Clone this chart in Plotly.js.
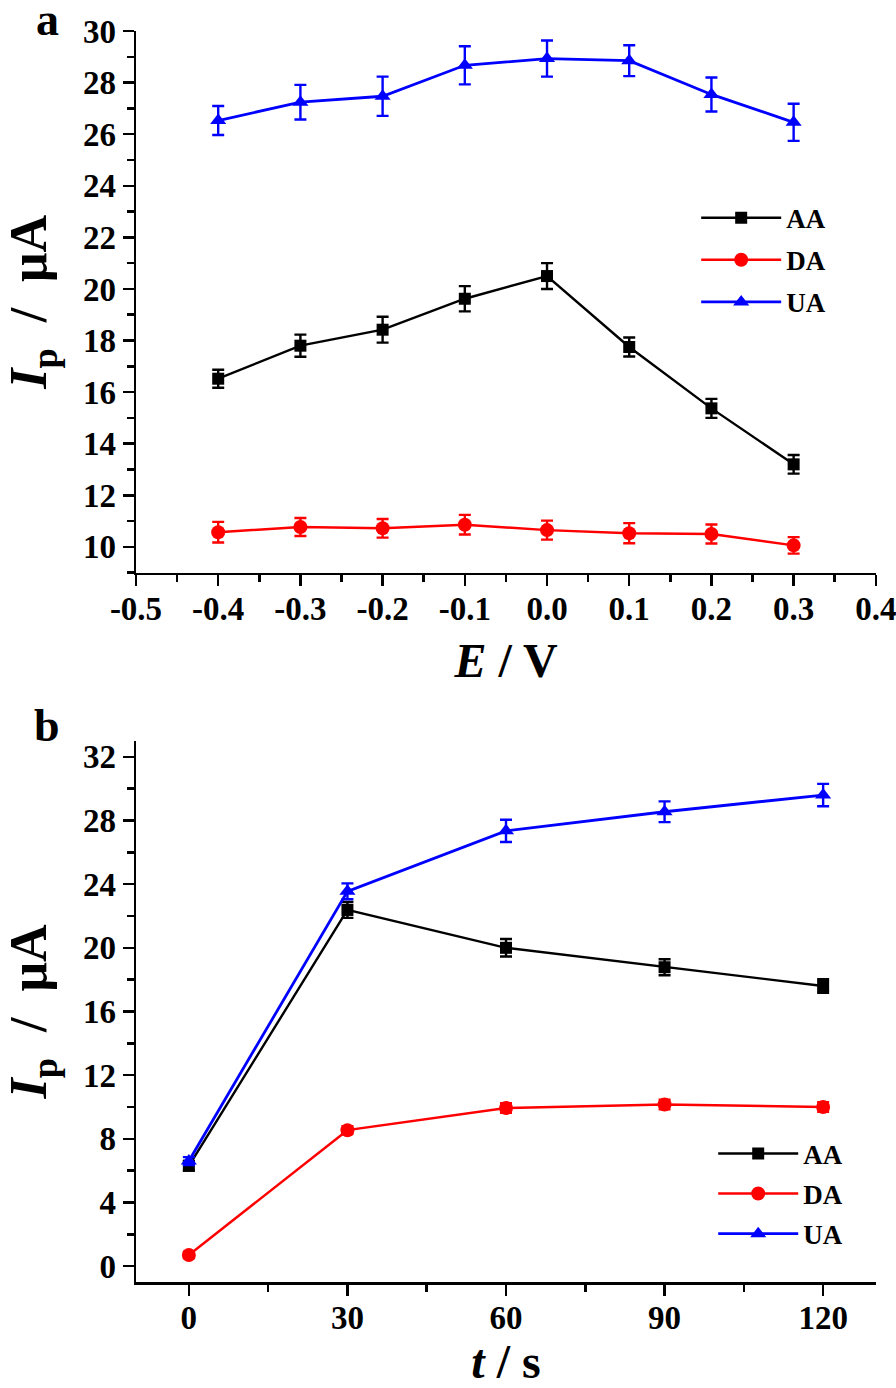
<!DOCTYPE html>
<html>
<head>
<meta charset="utf-8">
<script src="https://cdn.plot.ly/plotly-3.0.1.min.js"></script>
<style>html,body{margin:0;padding:0;background:#fff;}#chart{width:896px;height:1388px;}</style>
</head>
<body>
<div id="chart"></div>
<script>
// Panel a: potential
const potentialE = [-0.4, -0.3, -0.2, -0.1, 0.0, 0.1, 0.2, 0.3];
const aAA    = [16.52, 17.80, 18.42, 19.62, 20.50, 17.75, 15.37, 13.20];
const aAAerr = [0.35, 0.43, 0.50, 0.49, 0.50, 0.37, 0.37, 0.36];
const aDA    = [10.57, 10.77, 10.72, 10.86, 10.65, 10.53, 10.50, 10.06];
const aDAerr = [0.40, 0.35, 0.36, 0.38, 0.37, 0.39, 0.37, 0.32];
const aUA    = [26.53, 27.24, 27.47, 28.67, 28.93, 28.85, 27.54, 26.46];
const aUAerr = [0.56, 0.67, 0.76, 0.74, 0.70, 0.60, 0.66, 0.72];
const aXTickVals = [-0.5, -0.4, -0.3, -0.2, -0.1, 0.0, 0.1, 0.2, 0.3, 0.4];
const aXTickText = ['-0.5', '-0.4', '-0.3', '-0.2', '-0.1', '0.0', '0.1', '0.2', '0.3', '0.4'];

// Panel b: time
const timeT  = [0, 30, 60, 90, 120];
const bAA    = [6.30, 22.38, 20.00, 18.78, 17.60];
const bAAerr = [0.30, 0.50, 0.55, 0.50, 0.42];
const bDA    = [0.70, 8.54, 9.93, 10.15, 10.00];
const bDAerr = [0.20, 0.25, 0.30, 0.30, 0.30];
const bUA    = [6.60, 23.55, 27.35, 28.55, 29.60];
const bUAerr = [0.25, 0.50, 0.70, 0.65, 0.70];

const names = ['AA', 'DA', 'UA'];
const colors = ['#000000', '#ff0000', '#0000ff'];
const symbols = ['square', 'circle', 'triangle-up'];
const msizes = [12, 14, 14];
const lwidths = [2.4, 2.4, 2.8];

const FONT = 'Liberation Serif, Times New Roman, serif';

function mk(x, y, err, i, xa, ya, leg) {
  return {
    x: x, y: y, type: 'scatter', mode: 'lines+markers', name: names[i],
    xaxis: xa, yaxis: ya, legend: leg, legendgroup: leg + names[i],
    line: {color: colors[i], width: lwidths[i]},
    marker: {color: colors[i], symbol: symbols[i], size: msizes[i]},
    error_y: {type: 'data', array: err, visible: true, color: colors[i], thickness: 2.4, width: 6}
  };
}

const data = [
  mk(potentialE, aAA, aAAerr, 0, 'x', 'y', 'legend'),
  mk(potentialE, aDA, aDAerr, 1, 'x', 'y', 'legend'),
  mk(potentialE, aUA, aUAerr, 2, 'x', 'y', 'legend'),
  mk(timeT, bAA, bAAerr, 0, 'x2', 'y2', 'legend2'),
  mk(timeT, bDA, bDAerr, 1, 'x2', 'y2', 'legend2'),
  mk(timeT, bUA, bUAerr, 2, 'x2', 'y2', 'legend2')
];

const tickFont = {family: FONT, size: 33, color: '#000', weight: 'bold'};
const xTitleFont = {family: FONT, size: 48, color: '#000', weight: 'bold'};
const yTitleFont = {family: FONT, size: 52, color: '#000', weight: 'bold'};
const minorT = {ticks: 'outside', ticklen: 7, tickwidth: 2.5, tickcolor: '#000'};
const yTitleText = '<i>I</i><sub>p</sub>  /  μA';

function axisBase(extra) {
  return Object.assign({
    showline: true, linecolor: '#000', linewidth: 2.5, mirror: false,
    showgrid: false, zeroline: false,
    ticks: 'outside', ticklen: 11, tickwidth: 2.5, tickcolor: '#000',
    tickfont: tickFont, fixedrange: true, ticklabeloverflow: 'allow'
  }, extra);
}

const layout = {
  width: 896, height: 1388,
  margin: {l: 136, r: 20, t: 31, b: 106},
  paper_bgcolor: '#fff', plot_bgcolor: '#fff',
  font: {family: FONT, color: '#000'},
  xaxis: axisBase({
    domain: [0, 1], anchor: 'y', range: [-0.5, 0.4002],
    tickmode: 'array', tickvals: aXTickVals, ticktext: aXTickText,
    ticklabelstandoff: -6,
    minor: Object.assign({dtick: 0.05, tick0: 0}, minorT),
    title: {text: '<i>E</i> / V', font: xTitleFont, standoff: 18}
  }),
  yaxis: axisBase({
    domain: [0.567, 1], anchor: 'x', range: [9, 30], dtick: 2, tick0: 0,
    minor: Object.assign({dtick: 1, tick0: 0}, minorT),
    title: {text: yTitleText, font: yTitleFont, standoff: 31}
  }),
  xaxis2: axisBase({
    domain: [0, 1], anchor: 'y2', range: [-10, 130], dtick: 30, tick0: 0,
    ticklabelstandoff: -6,
    minor: Object.assign({dtick: 15, tick0: 0}, minorT),
    title: {text: '<i>t</i> / s', font: xTitleFont, standoff: 8}
  }),
  yaxis2: axisBase({
    domain: [0, 0.4325], anchor: 'x2', range: [-1, 33], dtick: 4, tick0: 0,
    minor: Object.assign({dtick: 2, tick0: 0}, minorT),
    title: {text: yTitleText, font: yTitleFont, standoff: 31}
  }),
  legend: {
    x: 0.757, y: 0.87, xanchor: 'left', yanchor: 'top',
    bgcolor: 'rgba(0,0,0,0)', borderwidth: 0,
    font: {family: FONT, size: 27, color: '#000', weight: 'bold'},
    itemwidth: 80, tracegroupgap: 4, traceorder: 'grouped'
  },
  legend2: {
    x: 0.780, y: 0.122, xanchor: 'left', yanchor: 'top',
    bgcolor: 'rgba(0,0,0,0)', borderwidth: 0,
    font: {family: FONT, size: 27, color: '#000', weight: 'bold'},
    itemwidth: 80, tracegroupgap: 2, traceorder: 'grouped'
  },
  showlegend: true,
  annotations: [
    {text: 'a', xref: 'paper', yref: 'paper', x: -0.138, y: 1.031, xanchor: 'left', yanchor: 'top',
     showarrow: false, font: {family: FONT, size: 46, color: '#000', weight: 'bold'}},
    {text: 'b', xref: 'paper', yref: 'paper', x: -0.14, y: 0.467, xanchor: 'left', yanchor: 'top',
     showarrow: false, font: {family: FONT, size: 46, color: '#000', weight: 'bold'}}
  ]
};

Plotly.newPlot('chart', data, layout, {displayModeBar: false, staticPlot: true});
</script>
</body>
</html>
